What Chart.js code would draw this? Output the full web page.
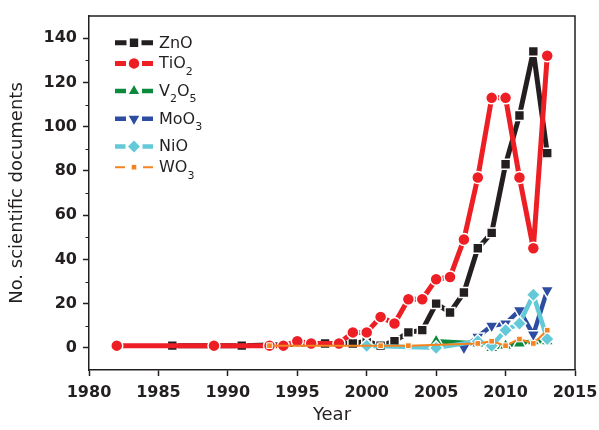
<!DOCTYPE html>
<html>
<head>
<meta charset="utf-8">
<script src="https://cdn.jsdelivr.net/npm/chart.js"></script>
<style>
  html, body { margin: 0; padding: 0; background: #ffffff; }
  canvas { display: block; }
</style>
</head>
<body>
<canvas id="chart" width="599" height="430"></canvas>
<script>
// Number of scientific documents per year for each metal oxide
const znoYears = [1986, 1991, 1997, 1999, 2000, 2001, 2002, 2003, 2004, 2005, 2006, 2007, 2008, 2009, 2010, 2011, 2012, 2013];
const znoDocs  = [1, 1, 2, 2, 3, 1, 3, 7, 8, 20, 16, 25, 45, 52, 83, 105, 134, 88];

const tio2Years = [1982, 1989, 1993, 1994, 1995, 1996, 1998, 1999, 2000, 2001, 2002, 2003, 2004, 2005, 2006, 2007, 2008, 2009, 2010, 2011, 2012, 2013];
const tio2Docs  = [1, 1, 1, 1, 3, 2, 2, 7, 7, 14, 11, 22, 22, 31, 32, 49, 77, 113, 113, 77, 45, 132];

const v2o5Years = [2005, 2008, 2009, 2010, 2011, 2012, 2013];
const v2o5Docs  = [3, 2, 0, 1, 2, 3, 3];

const moo3Years = [2007, 2008, 2009, 2010, 2011, 2012, 2013];
const moo3Docs  = [0, 5, 10, 11, 17, 6, 26];

const nioYears = [2000, 2005, 2008, 2009, 2010, 2011, 2012, 2013];
const nioDocs  = [1, 0, 3, 1, 8, 11, 24, 4];

const wo3Years = [1993, 2001, 2003, 2008, 2009, 2010, 2011, 2012, 2013];
const wo3Docs  = [1, 1, 1, 2, 3, 1, 4, 2, 8];

const seriesNames = ['ZnO', 'TiO2', 'V2O5', 'MoO3', 'NiO', 'WO3'];

// Axis ticks
const xTickValues = [1980, 1985, 1990, 1995, 2000, 2005, 2010, 2015];
const yTickValues = [0, 20, 40, 60, 80, 100, 120, 140];
const yMinorValues = [10, 30, 50, 70, 90, 110, 130];

const INK = '#231f20';
const FONT = "'DejaVu Sans', 'Liberation Sans', sans-serif";

function toPoints(years, docs) {
  return years.map((yr, i) => ({ x: yr, y: docs[i] }));
}

// Line / marker appearance for each series
const looks = [
  { color: '#231f20', width: 5,   style: 'rect',      radius: 7,   rotation: 0,   gap: 7.5 },
  { color: '#ed1f24', width: 5,   style: 'circle',    radius: 6,   rotation: 0,   gap: 8 },
  { color: '#0b8a3b', width: 4.5, style: 'triangle',  radius: 7.5, rotation: 0,   gap: 8 },
  { color: '#2c4da0', width: 4.5, style: 'triangle',  radius: 7.5, rotation: 180, gap: 8 },
  { color: '#63c8d8', width: 4.5, style: 'rectRot',   radius: 7,   rotation: 0,   gap: 8.5 },
  { color: '#f5831f', width: 2,   style: 'rect',      radius: 4,   rotation: 0,   gap: 9 }
];

const seriesData = [
  toPoints(znoYears, znoDocs),
  toPoints(tio2Years, tio2Docs),
  toPoints(v2o5Years, v2o5Docs),
  toPoints(moo3Years, moo3Docs),
  toPoints(nioYears, nioDocs),
  toPoints(wo3Years, wo3Docs)
];

const datasets = seriesNames.map((name, i) => ({
  label: name,
  data: seriesData[i],
  borderColor: looks[i].color,
  backgroundColor: looks[i].color,
  borderWidth: looks[i].width,
  borderJoinStyle: 'round',
  pointStyle: looks[i].style,
  pointRadius: looks[i].radius,
  pointHoverRadius: looks[i].radius,
  pointRotation: looks[i].rotation,
  pointBackgroundColor: looks[i].color,
  pointBorderColor: '#ffffff',
  pointBorderWidth: i === 5 ? 1 : 1.5,
  tension: 0,
  order: seriesNames.length - i,
  legendGap: looks[i].gap
}));

// Box frame (top/right) and short minor ticks on the value axis
const framePlugin = {
  id: 'frameAndMinorTicks',
  beforeDatasetsDraw(chart) {
    const { ctx, chartArea: a } = chart;
    const yScale = chart.scales.y;
    ctx.save();
    ctx.strokeStyle = INK;
    ctx.lineWidth = 1.5;
    ctx.beginPath();
    ctx.moveTo(a.left, a.top);
    ctx.lineTo(a.right, a.top);
    ctx.lineTo(a.right, a.bottom);
    ctx.stroke();
    ctx.lineWidth = 1.2;
    ctx.beginPath();
    yMinorValues.forEach(v => {
      const py = Math.round(yScale.getPixelForValue(v)) + 0.5;
      ctx.moveTo(a.left - 3.5, py);
      ctx.lineTo(a.left, py);
    });
    ctx.stroke();
    ctx.restore();
  }
};

// Legend: line segment with marker, chemical formula with subscript digits
const legendPlugin = {
  id: 'oxideLegend',
  afterDatasetsDraw(chart) {
    const ctx = chart.ctx;
    const x0 = 115, x1 = 153, xm = 134, xText = 159;
    let y = 42.7;
    chart.data.datasets.forEach(ds => {
      ctx.save();
      ctx.strokeStyle = ds.borderColor;
      ctx.lineWidth = ds.borderWidth;
      ctx.lineCap = 'butt';
      ctx.beginPath();
      ctx.moveTo(x0, y);
      ctx.lineTo(xm - ds.legendGap, y);
      ctx.moveTo(xm + ds.legendGap, y);
      ctx.lineTo(x1, y);
      ctx.stroke();

      ctx.fillStyle = ds.pointBackgroundColor;
      ctx.strokeStyle = ds.pointBorderColor;
      ctx.lineWidth = ds.pointBorderWidth;
      Chart.helpers.drawPoint(ctx, {
        pointStyle: ds.pointStyle,
        rotation: ds.pointRotation,
        radius: ds.pointRadius,
        borderWidth: ds.pointBorderWidth
      }, xm, y);

      ctx.fillStyle = INK;
      ctx.textAlign = 'left';
      ctx.textBaseline = 'alphabetic';
      let x = xText;
      const base = y + 4.8;
      let hasSub = false;
      for (const ch of ds.label) {
        if (/[0-9]/.test(ch)) {
          ctx.font = '11px ' + FONT;
          ctx.fillText(ch, x, base + 6.5);
          hasSub = true;
        } else {
          ctx.font = '16px ' + FONT;
          ctx.fillText(ch, x, base);
        }
        x += ctx.measureText(ch).width;
      }
      ctx.restore();
      y += 20.7 + (hasSub ? 7 : 0);
    });
  }
};

new Chart(document.getElementById('chart'), {
  type: 'line',
  data: { datasets },
  plugins: [framePlugin, legendPlugin],
  options: {
    responsive: false,
    animation: false,
    layout: { padding: { top: 16, right: 24, bottom: 0, left: 0 } },
    plugins: {
      legend: { display: false },
      tooltip: { enabled: false }
    },
    scales: {
      x: {
        type: 'linear',
        min: 1980,
        max: 2015,
        afterBuildTicks: s => { s.ticks = xTickValues.map(v => ({ value: v })); },
        afterFit: s => { s.height = 60; s.paddingLeft = 0; s.paddingRight = 0; },
        ticks: {
          autoSkip: false,
          maxRotation: 0,
          padding: 7,
          color: INK,
          font: { family: FONT, size: 16, weight: 'bold' },
          callback: v => String(v)
        },
        grid: {
          display: true,
          drawOnChartArea: false,
          drawTicks: true,
          tickLength: 6,
          tickColor: INK,
          tickWidth: 1.5
        },
        border: { display: true, color: INK, width: 1.5 },
        title: {
          display: true,
          text: 'Year',
          color: INK,
          font: { family: FONT, size: 18, weight: 'normal' },
          padding: { top: 0, bottom: 4 }
        }
      },
      y: {
        type: 'linear',
        min: -10,
        max: 150,
        afterBuildTicks: s => { s.ticks = yTickValues.map(v => ({ value: v })); },
        afterFit: s => { s.width = 89; s.paddingTop = 0; s.paddingBottom = 0; },
        ticks: {
          padding: 6,
          color: INK,
          font: { family: FONT, size: 16, weight: 'bold' },
          callback: v => String(v)
        },
        grid: {
          display: true,
          drawOnChartArea: false,
          drawTicks: true,
          tickLength: 6,
          tickColor: INK,
          tickWidth: 1.5
        },
        border: { display: true, color: INK, width: 1.5 },
        title: {
          display: true,
          text: 'No. scientific documents',
          color: INK,
          font: { family: FONT, size: 18, weight: 'normal' },
          padding: { top: 7, bottom: 0 }
        }
      }
    }
  }
});
</script>
</body>
</html>
